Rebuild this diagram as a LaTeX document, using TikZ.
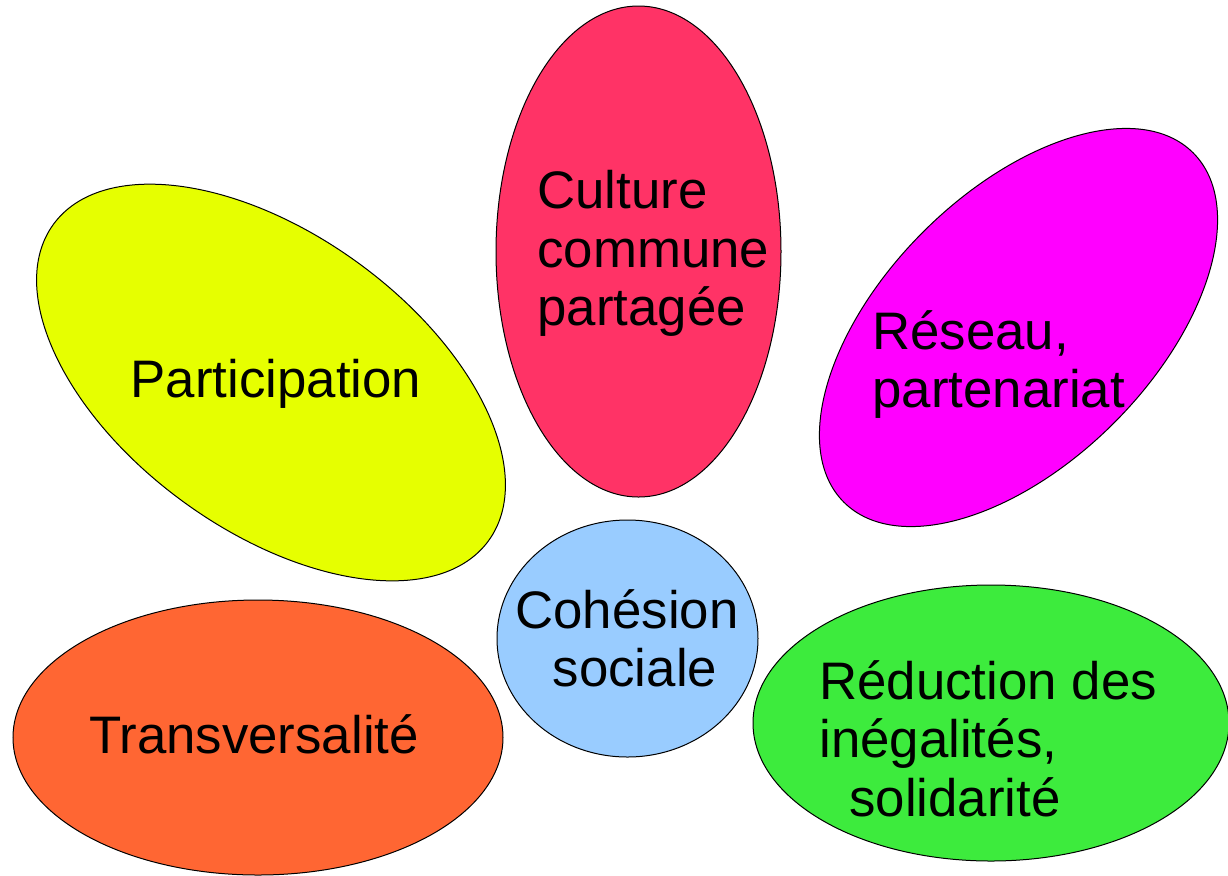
\documentclass[tikz,border=0pt]{standalone}
\usepackage{fontspec}
\setmainfont{Liberation Sans}
\usetikzlibrary{shapes.geometric}

\definecolor{culturered}{HTML}{FF3366}
\definecolor{partyellow}{HTML}{E6FF00}
\definecolor{reseaumag}{HTML}{FF00FF}
\definecolor{cohesblue}{HTML}{99CCFF}
\definecolor{transorange}{HTML}{FF6633}
\definecolor{reducgreen}{HTML}{3DEB3D}

\begin{document}
\begin{tikzpicture}[x=0.5pt,y=-0.5pt,
  petal/.style={ellipse,draw=black,line width=0.5pt,inner sep=0pt},
  words/.style={inner sep=0pt,font=\fontsize{26.4pt}{29.3pt}\selectfont}]

\useasboundingbox (0,0) rectangle (1228,875);

%Draw the petals
\node[petal,fill=culturered,minimum width=142.5pt,minimum height=245.5pt] (culture) at (638.5,251.5) {};
\node[petal,fill=partyellow,minimum width=269pt,minimum height=148pt,rotate=-36] (particip) at (271,382.5) {};
\node[petal,fill=reseaumag,minimum width=247pt,minimum height=135pt,rotate=45] (reseau) at (1018.5,327.5) {};
\node[petal,fill=transorange,minimum width=245pt,minimum height=137.5pt] (transv) at (258,737.5) {};
\node[petal,fill=reducgreen,minimum width=238pt,minimum height=138pt] (reduc) at (991,723) {};

%Draw the heart
\node[petal,fill=cohesblue,minimum width=130.5pt,minimum height=118.5pt] (cohesion) at (627.5,638.5) {};

%Texts
\node[words,anchor=north west,align=left] (culture-t) at (537,170) {Culture\\commune\\partagée};
\node[words,anchor=base] (particip-t) at (276,397) {Participation};
\node[words,anchor=north west,align=left] (reseau-t) at (872,310) {Réseau,\\partenariat};
\node[words,anchor=north,align=center] (cohesion-t) at (627,589) {Cohésion\\\hspace*{8pt}sociale};
\node[words,anchor=base] (transv-t) at (254,753) {Transversalité};
\node[words,anchor=north west,align=left] (reduc-t) at (819,660) {Réduction des\\inégalités,\\\hspace*{15pt}solidarité};

\end{tikzpicture}
\end{document}
